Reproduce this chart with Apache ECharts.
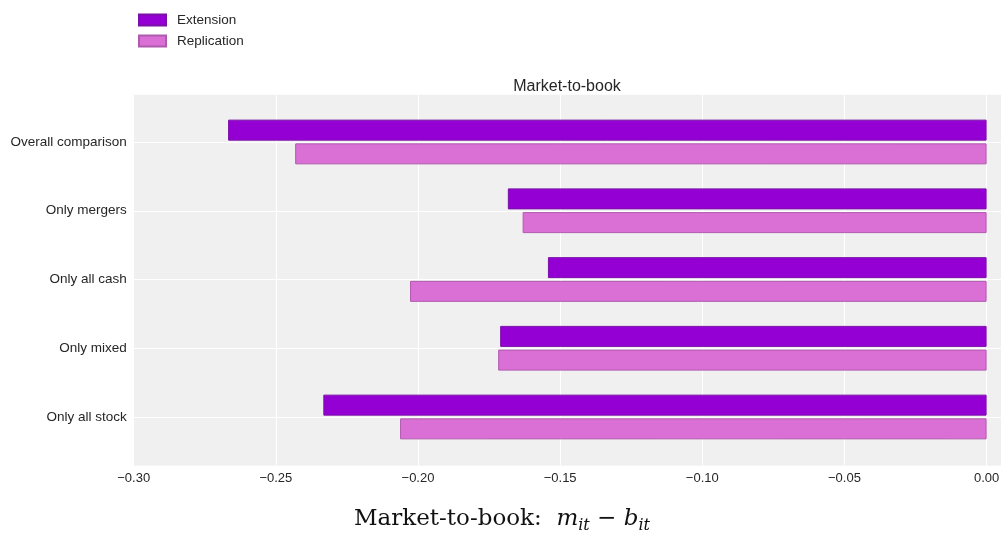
<!DOCTYPE html>
<html><head><meta charset="utf-8">
<script src="https://cdn.jsdelivr.net/npm/echarts@6/dist/echarts.min.js"></script>
<style>html,body{margin:0;padding:0;background:#fff}#c{width:1001px;height:533px}</style>
</head><body><div id="c"></div>
<script>
const categories = ['Overall comparison','Only mergers','Only all cash','Only mixed','Only all stock'];
const extension = [-0.2668,-0.1684,-0.1543,-0.1711,-0.2333];
const replication = [-0.2432,-0.1632,-0.2028,-0.1718,-0.2063];
const xTicks = [-0.30,-0.25,-0.20,-0.15,-0.10,-0.05,0.00];

const XMIN = -0.30, XMAX = 0.0121;
const font = 'Liberation Sans, Arial, sans-serif';
const serif = 'DejaVu Serif, Liberation Serif, serif';
const chart = echarts.init(document.getElementById('c'), null, {renderer:'canvas'});
const fmt = v => {
  const hit = xTicks.find(t => Math.abs(t - v) < 1e-6);
  if (hit === undefined) return '';
  return (hit < -1e-9 ? '\u2212' : '') + Math.abs(hit).toFixed(2);
};
chart.setOption({
  animation:false,
  title:{text:'Market-to-book', left:562, top:74, textAlign:'center',
    textStyle:{fontFamily:font, fontSize:16, fontWeight:'normal', color:'#262626'}},
  legend:{left:133, top:8, orient:'vertical', icon:'rect', itemWidth:27, itemHeight:11, itemGap:7,
    textStyle:{fontFamily:font, fontSize:13.5, color:'#262626', padding:[0,0,0,6]},
    data:['Extension','Replication']},
  grid:[
    {left:133.7, right:-20, top:94.7, bottom:533-465.7, show:true, backgroundColor:'#f0f0f0', borderWidth:0, outerBoundsMode:'none', containLabel:false},
    {left:133.7, right:-20, top:142, bottom:533-417, show:false, outerBoundsMode:'none', containLabel:false}
  ],
  graphic:[{
    type:'text', left:354, top:508, z:10,
    style:{
      text:'{t|Market-to-book:  }{m|m}{s|it}{t| \u2212 }{m|b}{s|it}',
      x:0, y:0,
      rich:{
        t:{fontFamily:serif, fontSize:23, fill:'#111', fontStyle:'normal'},
        m:{fontFamily:serif, fontStyle:'italic', fontSize:23, fill:'#111'},
        s:{fontFamily:serif, fontStyle:'italic', fontSize:16, fill:'#111', padding:[12,0,0,0]}
      }
    }
  }],
  xAxis:[
    {gridIndex:0, type:'value', min:XMIN, max:XMAX, interval:0.05,
      axisLine:{show:false}, axisTick:{show:false},
      splitLine:{show:true, lineStyle:{color:'#ffffff', width:1}},
      axisLabel:{formatter:fmt, fontFamily:font, fontSize:13, color:'#262626', margin:6}},
    {gridIndex:1, type:'value', min:XMIN, max:XMAX, interval:0.05, show:false,
      splitLine:{show:false}}
  ],
  yAxis:[
    {gridIndex:0, type:'value', show:false, splitLine:{show:false}},
    {gridIndex:1, type:'category', data:categories, inverse:true, boundaryGap:false,
      axisLine:{show:false}, axisTick:{show:false},
      splitLine:{show:true, lineStyle:{color:'#ffffff', width:1}},
      axisLabel:{fontFamily:font, fontSize:13.5, color:'#262626', margin:7}}
  ],
  series:[
    {name:'Extension', type:'bar', xAxisIndex:1, yAxisIndex:1, data:extension, clip:false,
      barWidth:21, barGap:'13%',
      itemStyle:{color:'#9400d3', borderColor:'#7a10a8', borderWidth:1}},
    {name:'Replication', type:'bar', xAxisIndex:1, yAxisIndex:1, data:replication, clip:false,
      barWidth:21, barGap:'13%',
      itemStyle:{color:'#da70d6', borderColor:'#b05aae', borderWidth:1}}
  ]
});
</script></body></html>
